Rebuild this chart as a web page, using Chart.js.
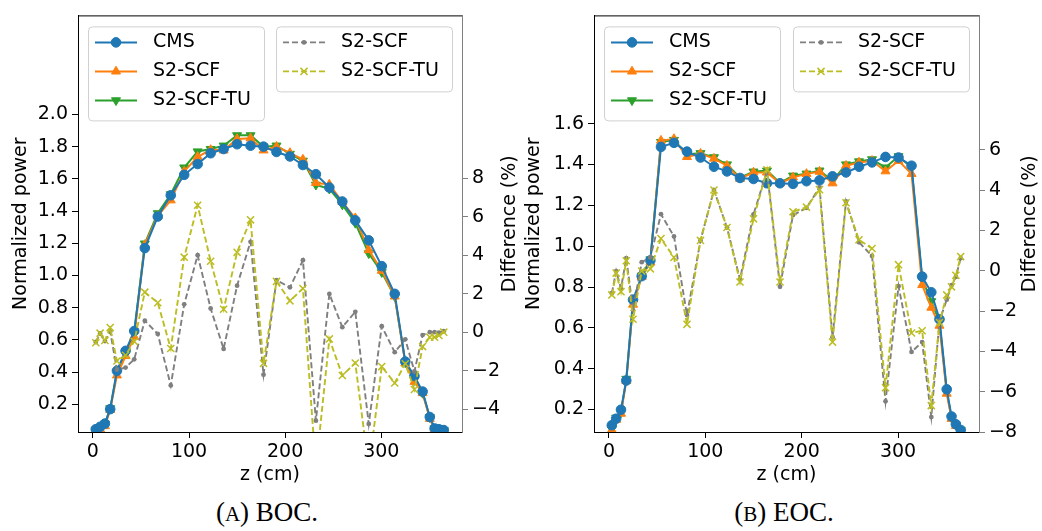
<!DOCTYPE html>
<html>
<head>
<meta charset="utf-8">
<script src="https://cdn.jsdelivr.net/npm/chart.js@4.4.1/dist/chart.umd.min.js"></script>
<style>
  body { margin: 0; background: #fff; width: 1042px; height: 531px; position: relative; overflow: hidden; }
  canvas { position: absolute; top: 0; }
  #boc { left: 0; }
  #eoc { left: 520px; }
  .caption { position: absolute; top: 499px; width: 300px; text-align: center; line-height: 27px;
             font-family: 'Liberation Serif', serif; font-size: 27px; color: #000; }
  .caption .sc { font-size: 0.78em; }
</style>
</head>
<body>
<canvas id="boc" width="520" height="490"></canvas>
<canvas id="eoc" width="522" height="490"></canvas>
<div class="caption" style="left:117px">(<span class="sc">A</span>) BOC.</div>
<div class="caption" style="left:634px">(<span class="sc">B</span>) EOC.</div>
<script>
// axial positions (cm), shared by both plots
const zCm = [3, 7.5, 12.5, 18, 25, 34, 43, 54, 67.5, 81, 95, 109, 122.5, 136, 150, 164, 177.5,
  191, 205, 218.5, 232, 246, 259.5, 273, 287, 300.5, 314, 325, 334.5, 343, 350.5, 355.5, 360, 365];

// (A) BOC - normalized power
const bocCms = [0.045, 0.06, 0.08, 0.17, 0.408, 0.532, 0.655, 1.17, 1.366, 1.498, 1.625, 1.692, 1.759,
  1.785, 1.815, 1.806, 1.80, 1.767, 1.739, 1.686, 1.629, 1.546, 1.459, 1.342, 1.218, 1.058, 0.886,
  0.465, 0.376, 0.279, 0.121, 0.05, 0.045, 0.04];
const bocScf = [0.035, 0.045, 0.065, 0.165, 0.38, 0.50, 0.62, 1.19, 1.37, 1.467, 1.646, 1.737, 1.78,
  1.777, 1.848, 1.852, 1.777, 1.80, 1.761, 1.72, 1.575, 1.565, 1.457, 1.356, 1.158, 1.03, 0.87,
  0.455, 0.34, 0.27, 0.11, 0.045, 0.04, 0.035];
const bocScfTu = [0.04, 0.055, 0.08, 0.175, 0.40, 0.52, 0.645, 1.198, 1.386, 1.504, 1.67, 1.77, 1.785,
  1.806, 1.87, 1.87, 1.80, 1.806, 1.755, 1.712, 1.563, 1.538, 1.44, 1.326, 1.137, 1.02, 0.87,
  0.46, 0.35, 0.27, 0.12, 0.05, 0.045, 0.04];
// (A) BOC - difference (%)
const bocDiffScf = [-0.51, -0.07, -0.46, 0.03, -1.95, -1.84, -1.41, 0.6, -0.09, -2.77, 1.45, 4.0, 1.23,
  -0.87, 2.42, 4.7, -2.21, 2.7, 2.33, 3.74, -4.6, 1.99, 0.26, 1.06, -4.77, 0.31, -1.04,
  -0.37, -2.04, -0.15, 0, 0, -0.03, 0.05];
const bocDiffScfTu = [-0.55, -0.05, -0.43, 0.24, -1.5, -1.2, -0.48, 2.08, 1.53, -0.85, 3.9, 6.6, 3.69,
  1.19, 4.15, 5.84, -1.62, 2.64, 1.63, 2.27, -7.1, -0.35, -2.25, -1.6, -7.1, -1.79, -2.64,
  -1.64, -2.98, -0.75, -0.26, -0.26, -0.17, 0.0];

// (B) EOC - normalized power
const eocCms = [0.123, 0.155, 0.199, 0.342, 0.738, 0.853, 0.93, 1.486, 1.506, 1.463, 1.434, 1.389, 1.366,
  1.334, 1.329, 1.308, 1.308, 1.305, 1.318, 1.322, 1.342, 1.361, 1.389, 1.41, 1.437, 1.434, 1.394,
  0.851, 0.774, 0.642, 0.299, 0.166, 0.128, 0.1];
const eocScf = [0.10, 0.15, 0.18, 0.34, 0.714, 0.85, 0.92, 1.517, 1.525, 1.437, 1.453, 1.429, 1.394,
  1.33, 1.361, 1.361, 1.308, 1.337, 1.354, 1.365, 1.308, 1.394, 1.41, 1.418, 1.367, 1.418, 1.354,
  0.81, 0.699, 0.611, 0.278, 0.155, 0.12, 0.095];
const eocScfTu = [0.105, 0.16, 0.185, 0.35, 0.72, 0.855, 0.935, 1.51, 1.52, 1.45, 1.455, 1.435, 1.40,
  1.335, 1.365, 1.37, 1.31, 1.345, 1.355, 1.37, 1.32, 1.40, 1.415, 1.425, 1.385, 1.44, 1.385,
  0.84, 0.73, 0.63, 0.29, 0.16, 0.125, 0.1];
// (B) EOC - difference (%)
const eocDiffScf = [-1.12, -0.02, -0.88, 0.62, -1.96, 0.42, 0.66, 2.8, 1.7, -2.2, 1.5, 4.0, 2.14,
  -0.43, 2.79, 4.94, -0.8, 2.76, 3.11, 4.13, -3.3, 3.43, 1.41, 0.73, -6.48, -0.77, -4.03,
  -3.54, -7.26, -2.49, -1.44, -0.72, -0.31, 0.62];
const eocDiffScfTu = [-1.2, -0.12, -1.04, 0.49, -2.41, -0.02, 0.09, 1.59, 0.66, -2.66, 1.5, 4.0, 2.14,
  -0.56, 2.57, 5.0, -0.56, 2.92, 3.15, 4.02, -3.54, 3.37, 1.53, 1.1, -5.8, 0.3, -3.09,
  -2.98, -6.69, -2.57, -1.2, -0.8, -0.23, 0.7];

// tick labels
const zTicks = [0, 100, 200, 300];
const bocPowerTicks = [0.2, 0.4, 0.6, 0.8, 1.0, 1.2, 1.4, 1.6, 1.8, 2.0];
const bocDiffTicks = [-4, -2, 0, 2, 4, 6, 8];
const eocPowerTicks = [0.2, 0.4, 0.6, 0.8, 1.0, 1.2, 1.4, 1.6];
const eocDiffTicks = [-8, -6, -4, -2, 0, 2, 4, 6];

const FONT = 'DejaVu Sans';
Chart.defaults.font.family = FONT;
Chart.defaults.font.size = 19;
Chart.defaults.color = '#000';

const fixTicks = list => scale => { scale.ticks = list.map(value => ({ value })); };
const pts = ys => zCm.map((x, i) => ({ x, y: ys[i] }));
const minus = v => (v < 0 ? '\u2212' + Math.abs(v) : String(v));

// matplotlib-like extras: top spine, right axis label (reads upward), two legend boxes
const mplExtras = {
  id: 'mplExtras',
  afterDraw(chart, args, opts) {
    const { ctx, chartArea: a } = chart;
    const sets = chart.data.datasets;
    ctx.save();
    ctx.strokeStyle = '#000';
    ctx.lineWidth = 1;
    ctx.beginPath();
    ctx.moveTo(a.left, a.top + 0.5);
    ctx.lineTo(a.right, a.top + 0.5);
    ctx.stroke();

    ctx.font = `19px "${FONT}"`;
    ctx.fillStyle = '#000';
    ctx.textAlign = 'center';
    ctx.textBaseline = 'middle';
    ctx.translate(a.right + opts.rightTitleGap, (a.top + a.bottom) / 2);
    ctx.rotate(-Math.PI / 2);
    ctx.fillText('Difference (%)', 0, 0);
    ctx.restore();

    const boxes = [
      { x: a.left + 10, rows: [2, 3, 4] },
      { x: a.right - 10 - 176, rows: [1, 0] },
    ];
    ctx.save();
    ctx.font = `19px "${FONT}"`;
    ctx.textBaseline = 'middle';
    for (const b of boxes) {
      const top = a.top + 11;
      const h = 7 + b.rows.length * 29;
      ctx.beginPath();
      ctx.roundRect(b.x + 0.5, top + 0.5, 176, h, 4);
      ctx.fillStyle = 'rgba(255,255,255,0.8)';
      ctx.fill();
      ctx.strokeStyle = '#d0d0d0';
      ctx.lineWidth = 1;
      ctx.stroke();
      b.rows.forEach((idx, i) => {
        const ds = sets[idx];
        const y = top + 16 + i * 29;
        ctx.save();
        ctx.strokeStyle = ds.borderColor;
        ctx.lineWidth = ds.borderWidth;
        ctx.setLineDash(ds.borderDash || []);
        ctx.beginPath();
        ctx.moveTo(b.x + 7, y);
        ctx.lineTo(b.x + 49, y);
        ctx.stroke();
        ctx.setLineDash([]);
        ctx.fillStyle = ds.backgroundColor;
        const bw = ds.pointBorderWidth ?? 1;
        ctx.lineWidth = bw;
        Chart.helpers.drawPoint(ctx, {
          pointStyle: ds.pointStyle, rotation: ds.pointRotation || 0,
          radius: ds.pointRadius, borderWidth: bw
        }, b.x + 28, y);
        ctx.restore();
        ctx.fillStyle = '#000';
        ctx.fillText(ds.label, b.x + 65, y);
      });
    }
    ctx.restore();
  }
};

function makeChart(id, p) {
  const datasets = [
    { label: 'S2-SCF-TU', data: pts(p.diffTu), yAxisID: 'y2', order: 0,
      borderColor: '#bcbd22', backgroundColor: '#bcbd22', borderWidth: 1.9, borderDash: [6, 3],
      pointStyle: 'crossRot', pointRadius: 5, pointBorderWidth: 1.5 },
    { label: 'S2-SCF', data: pts(p.diffScf), yAxisID: 'y2', order: 1,
      borderColor: '#7f7f7f', backgroundColor: '#7f7f7f', borderWidth: 1.9, borderDash: [6, 3],
      pointStyle: 'circle', pointRadius: 2.4, pointBorderWidth: 0 },
    { label: 'CMS', data: pts(p.cms), yAxisID: 'y', order: 2,
      borderColor: '#1f77b4', backgroundColor: '#1f77b4', borderWidth: 2,
      pointStyle: 'circle', pointRadius: 4.8, pointBorderWidth: 1 },
    { label: 'S2-SCF', data: pts(p.scf), yAxisID: 'y', order: 3,
      borderColor: '#ff7f0e', backgroundColor: '#ff7f0e', borderWidth: 2,
      pointStyle: 'triangle', pointRadius: 5.2, pointBorderWidth: 1 },
    { label: 'S2-SCF-TU', data: pts(p.tu), yAxisID: 'y', order: 4,
      borderColor: '#2ca02c', backgroundColor: '#2ca02c', borderWidth: 2,
      pointStyle: 'triangle', pointRotation: 180, pointRadius: 5.2, pointBorderWidth: 1 },
  ];

  return new Chart(document.getElementById(id), {
    type: 'line',
    data: { datasets },
    plugins: [mplExtras],
    options: {
      responsive: false,
      animation: false,
      devicePixelRatio: 1,
      events: [],
      layout: { padding: { top: 6, left: 0, right: 0, bottom: 0 } },
      elements: { line: { tension: 0 } },
      plugins: {
        legend: { display: false },
        tooltip: { enabled: false },
        mplExtras: { rightTitleGap: p.rightTitleGap },
      },
      scales: {
        x: {
          type: 'linear', min: -15.5, max: 384,
          afterBuildTicks: fixTicks(zTicks),
          afterFit: s => { s.height = 58; },
          grid: { drawOnChartArea: false, tickLength: 6, color: '#000' },
          border: { color: '#000', width: 1 },
          ticks: { color: '#000', padding: 3, maxRotation: 0, autoSkip: false, callback: v => String(v) },
          title: { display: true, text: 'z (cm)', color: '#000', padding: { top: 0, bottom: 4 } },
        },
        y: {
          position: 'left', min: p.yMin, max: p.yMax,
          afterBuildTicks: fixTicks(p.powerTicks),
          afterFit: s => { s.width = p.leftW; },
          grid: { drawOnChartArea: false, tickLength: 6, color: '#000' },
          border: { color: '#000', width: 1 },
          ticks: { color: '#000', padding: 4, autoSkip: false, callback: v => Number(v).toFixed(1) },
          title: { display: true, text: 'Normalized power', color: '#000', padding: { top: p.leftTitlePad, bottom: 0 } },
        },
        y2: {
          position: 'right', min: p.y2Min, max: p.y2Max,
          afterBuildTicks: fixTicks(p.diffTicks),
          afterFit: s => { s.width = p.rightW; },
          grid: { drawOnChartArea: false, tickLength: 6, color: '#808080' },
          border: { color: '#808080', width: 1 },
          ticks: { color: '#000', padding: 4, autoSkip: false, callback: minus },
        },
      },
    },
  });
}

makeChart('boc', {
  cms: bocCms, scf: bocScf, tu: bocScfTu, diffScf: bocDiffScf, diffTu: bocDiffScfTu,
  powerTicks: bocPowerTicks, diffTicks: bocDiffTicks,
  yMin: 0.028, yMax: 2.615, y2Min: -5.19, y2Max: 16.47,
  leftW: 78, rightW: 58, leftTitlePad: 9.6, rightTitleGap: 48,
});

makeChart('eoc', {
  cms: eocCms, scf: eocScf, tu: eocScfTu, diffScf: eocDiffScf, diffTu: eocDiffScfTu,
  powerTicks: eocPowerTicks, diffTicks: eocDiffTicks,
  yMin: 0.09, yMax: 2.13, y2Min: -8, y2Max: 12.66,
  leftW: 74, rightW: 63, leftTitlePad: 2.6, rightTitleGap: 51,
});
</script>
</body>
</html>
